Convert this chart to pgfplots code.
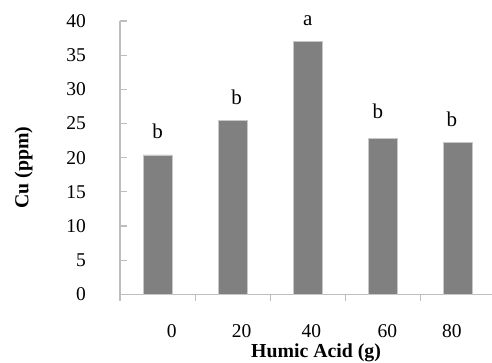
\documentclass[border=0pt]{standalone}
\usepackage{pgfplots}
\pgfplotsset{compat=1.18}
\usepackage{fontspec}
\setmainfont{Liberation Serif}
\definecolor{barc}{RGB}{128,128,128}
\definecolor{baredge}{RGB}{200,200,200}
\definecolor{axc}{RGB}{190,190,190}
\begin{document}
\begin{tikzpicture}
\useasboundingbox (-120pt,-67.7pt) rectangle (372pt,294.3pt);
\begin{axis}[
  at={(0,0)}, anchor=south west,
  scale only axis, width=372pt, height=273.3pt,
  xmin=-0.5, xmax=4.453, ymin=0, ymax=40,
  ybar, bar width=29pt,
  ytick={0,5,...,40},
  xtick={0,...,4},
  xticklabels={\hspace*{28.4pt}0,\hspace*{17.8pt}20,\hspace*{7.4pt}40,\hspace*{9pt}60,80\hspace*{12.2pt}},
  minor xtick={-0.5,0.5,1.5,2.5,3.5},
  axis x line*=bottom, axis y line*=left,
  axis line style={draw=axc, line width=1.4pt},
  tick style={draw=axc, line width=1.2pt},
  every major x tick/.append style={draw=none},
  every major y tick/.append style={xshift=7pt},
  tick align=outside,
  major tick length=7pt, minor tick length=6.5pt,
  /pgf/number format/assume math mode=true,
  ticklabel style={font=\fontsize{19.5}{22}\selectfont, inner sep=0pt},
  yticklabel style={xshift=-27pt},
  xticklabel style={yshift=-23pt},
  xlabel={\textbf{Humic Acid (g)}},
  ylabel={\textbf{Cu (ppm)}},
  label style={font=\fontsize{19.8}{22}\selectfont, inner sep=0pt},
  xlabel style={at={(axis description cs:0.527,-0.233)}, anchor=base},
  ylabel style={at={(axis description cs:-0.246,0.464)}, anchor=base},
  clip=false,
]
\addplot[fill=barc, draw=baredge, line width=0.6pt,
  nodes near coords, point meta=explicit symbolic,
  every node near coord/.append style={anchor=south, inner sep=0pt, yshift=15.5pt, font=\fontsize{21}{24}\selectfont}]
  coordinates {
(0,20.4) [b]
(1,25.4) [\hspace*{8pt}b]
(2,37.0) [a]
(3,22.8) [\raisebox{4.5pt}{b\hspace*{10pt}}]
(4,22.2) [b\hspace*{12pt}]
};
\end{axis}
\end{tikzpicture}
\end{document}
